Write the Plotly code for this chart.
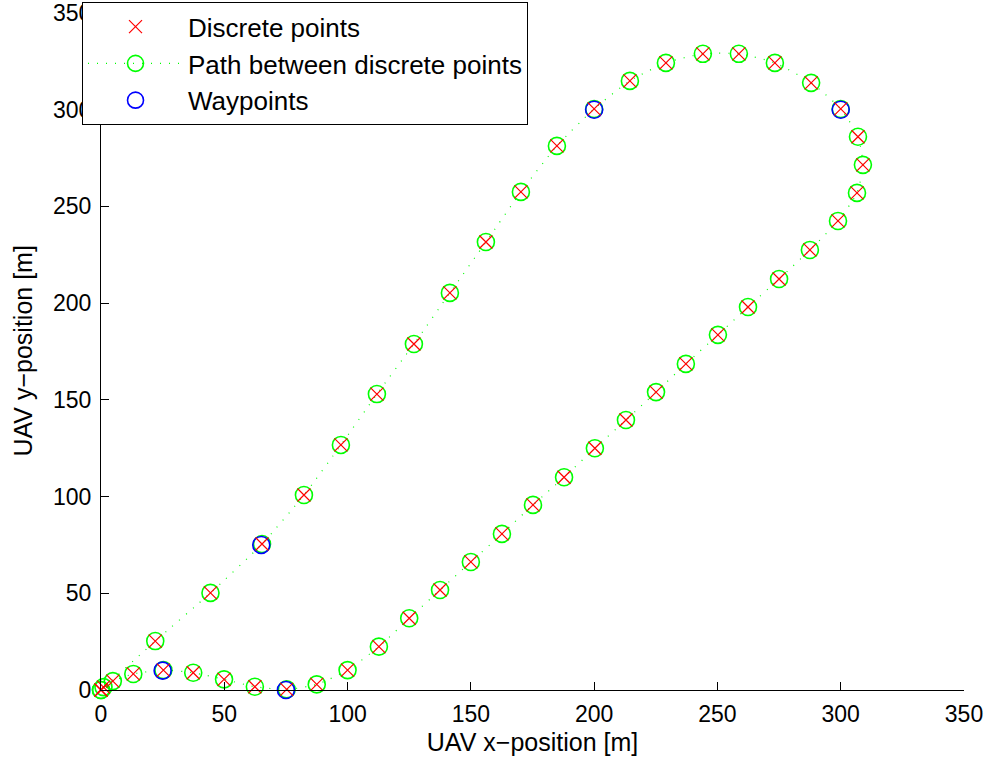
import plotly.graph_objects as go

# Discrete path samples along the UAV trajectory [m]
path_x = [0, 1, 4.8, 13.1, 25.3, 37.4, 49.9, 62.4, 75.3, 87.5, 100.0, 112.7, 125.0,
          137.5, 150.0, 162.6, 175.2, 187.8, 200.3, 212.9, 225.1, 237.2, 250.2, 262.4,
          275.0, 287.5, 298.9, 306.6, 309.0, 307.0, 300.0, 288.0, 273.3, 258.7, 244.1,
          229.1, 214.5, 200.0, 184.9, 170.3, 156.1, 141.5, 126.9, 111.9, 97.3, 82.3,
          65.3, 44.4, 22.0, 0]
path_y = [0, 1.5, 4.6, 8.3, 10.3, 8.9, 5.5, 1.7, 0.3, 2.9, 10.3, 22.4, 37.1,
          51.7, 66.2, 80.7, 95.7, 110.0, 125.0, 139.6, 154.0, 168.6, 183.6, 198.0,
          212.5, 227.5, 242.5, 257.0, 271.5, 286.0, 300.4, 313.9, 324.2, 328.9, 328.9,
          324.2, 314.9, 300.4, 281.3, 257.5, 231.6, 205.3, 178.9, 153.0, 126.7, 100.8,
          75.5, 50.2, 25.3, 0]

# Waypoints [m]
wp_x = [25, 75, 300, 200, 65]
wp_y = [10, 0, 300, 300, 75]

x_ticks = [0, 50, 100, 150, 200, 250, 300, 350]
y_ticks = [0, 50, 100, 150, 200, 250, 300, 350]

x_title = "UAV x\u2212position [m]"
y_title = "UAV y\u2212position [m]"

FONT = "Liberation Sans, Arial, Helvetica, sans-serif"

fig = go.Figure()

fig.add_trace(go.Scatter(
    x=path_x, y=path_y, mode="lines+markers",
    name="Path between discrete points",
    line=dict(color="#00ff00", width=1.2, dash="1px,8px", shape="spline", smoothing=0.6),
    marker=dict(symbol="circle-open", size=17, color="#00ff00", line=dict(width=1.6, color="#00ff00")),
    cliponaxis=False, legendgroup="b", legendrank=2,
))
fig.add_trace(go.Scatter(
    x=wp_x, y=wp_y, mode="markers", name="Waypoints",
    marker=dict(symbol="circle-open", size=17, color="#0000ff", line=dict(width=1.6, color="#0000ff")),
    cliponaxis=False, legendgroup="c", legendrank=3,
))
fig.add_trace(go.Scatter(
    x=path_x, y=path_y, mode="markers", name="Discrete points",
    marker=dict(symbol="x-thin-open", size=13, color="#ff0000", line=dict(width=1.2, color="#ff0000")),
    cliponaxis=False, legendgroup="a", legendrank=1,
))

axis_common = dict(
    showline=True, linecolor="black", linewidth=1,
    ticks="inside", ticklen=8, tickcolor="black", tickwidth=1,
    showgrid=False, zeroline=False, mirror=False,
    tickfont=dict(family=FONT, size=23, color="black"),
    title_font=dict(family=FONT, size=25, color="black"),
)

fig.update_xaxes(range=[0, 350], tickvals=x_ticks, title_text=x_title,
                 title_standoff=7, ticklabelstandoff=3, **axis_common)
fig.update_yaxes(range=[0, 350], tickvals=y_ticks, ticklabelstandoff=4, **axis_common)

# y-axis title placed as a rotated annotation left of the tick labels
fig.add_annotation(
    text=y_title, textangle=-90, showarrow=False,
    xref="paper", yref="paper", x=-0.0915, y=0.5, xanchor="center", yanchor="middle",
    font=dict(family=FONT, size=25, color="black"),
)

fig.update_layout(
    width=989, height=764,
    margin=dict(l=101, r=25, t=13, b=74, autoexpand=False),
    paper_bgcolor="white", plot_bgcolor="white",
    font=dict(family=FONT, size=23, color="black"),
    showlegend=True,
    legend=dict(
        x=-0.022, y=1.016, xanchor="left", yanchor="top",
        bgcolor="white", bordercolor="black", borderwidth=1,
        font=dict(family=FONT, size=26, color="black"),
        traceorder="grouped", tracegroupgap=0, itemwidth=95,
    ),
)

fig.write_html("out.html")
